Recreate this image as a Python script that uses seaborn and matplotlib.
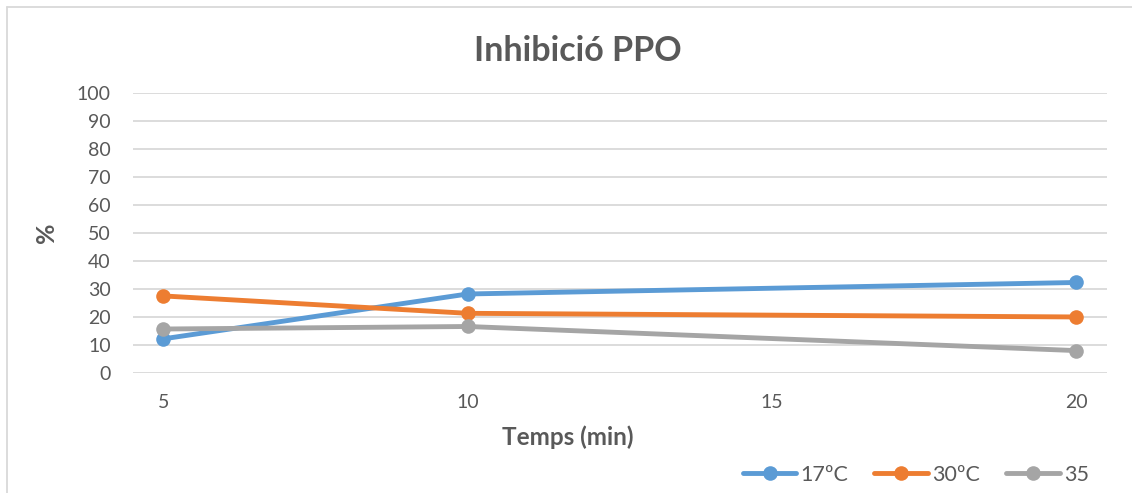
import matplotlib
matplotlib.use("Agg")
import matplotlib.pyplot as plt
from matplotlib.lines import Line2D
import seaborn as sns
import pandas as pd

# Data
temps = [5, 10, 20]
serie_17 = [12.3, 28.3, 32.4]
serie_30 = [27.6, 21.4, 20.1]
serie_35 = [15.8, 16.7, 8.1]
series_names = ["17ºC", "30ºC", "35"]
colors = ["#5B9BD5", "#ED7D31", "#A5A5A5"]
y_ticks = list(range(0, 101, 10))
x_ticks = [5, 10, 15, 20]

df = pd.DataFrame({
    "Temps": temps * 3,
    "valor": serie_17 + serie_30 + serie_35,
    "serie": [series_names[0]] * 3 + [series_names[1]] * 3 + [series_names[2]] * 3,
})

sns.set_theme(style="white")
plt.rcParams["font.family"] = ["Lato", "DejaVu Sans"]

W, H = 1132, 493
fig = plt.figure(figsize=(W / 100, H / 100), dpi=100)
ax = fig.add_axes([133 / W, 1 - 373.3 / H, (1106.7 - 133) / W, (373.3 - 93) / H])

sns.lineplot(data=df, x="Temps", y="valor", hue="serie", hue_order=series_names,
             palette=colors, marker="o", markersize=10.5, markeredgewidth=0,
             linewidth=3.5, ax=ax, legend=False, zorder=3)

ax.set_xlim(4.5, 20.5)
ax.set_ylim(0, 100)
ax.set_yticks(y_ticks)
ax.set_xticks(x_ticks)
ax.yaxis.grid(True, color="#D9D9D9", linewidth=1.3, zorder=0)
ax.xaxis.grid(False)
for s in ax.spines.values():
    s.set_visible(False)
ax.tick_params(axis="both", length=0, labelsize=14, labelcolor="#595959")
ax.tick_params(axis="y", pad=16)
ax.tick_params(axis="x", pad=15)
ax.set_xlabel("")
ax.set_ylabel("")

txt = "#595959"
fig.text(578 / W, 1 - 51 / H, "Inhibició PPO", ha="center", va="center",
         fontsize=24.5, fontweight="bold", color=txt)
fig.text(568 / W, 1 - 437 / H, "Temps (min)", ha="center", va="center",
         fontsize=17.5, fontweight="bold", color=txt)
fig.text(47 / W, 1 - 233 / H, "%", ha="center", va="center", rotation=90,
         fontsize=18, fontweight="bold", color=txt)

handles = [Line2D([0], [0], color=c, linewidth=3.5, marker="o", markersize=10.5,
                  markeredgewidth=0) for c in colors]
leg = fig.legend(handles, series_names, loc="center right",
                 bbox_to_anchor=(1098 / W, 1 - 475 / H), ncol=3, frameon=False,
                 fontsize=15.5, handlelength=2.5, handletextpad=0.2,
                 columnspacing=1.2, borderaxespad=0)
for t in leg.get_texts():
    t.set_color(txt)

# Chart-area border (left and top edges)
fig.add_artist(Line2D([7 / W, 7 / W], [0, 1 - 6.5 / H], transform=fig.transFigure,
                      color="#D9D9D9", linewidth=1.3))
fig.add_artist(Line2D([7 / W, 1], [1 - 6.5 / H, 1 - 6.5 / H], transform=fig.transFigure,
                      color="#D9D9D9", linewidth=1.3))

fig.savefig("out.png", dpi=100)
